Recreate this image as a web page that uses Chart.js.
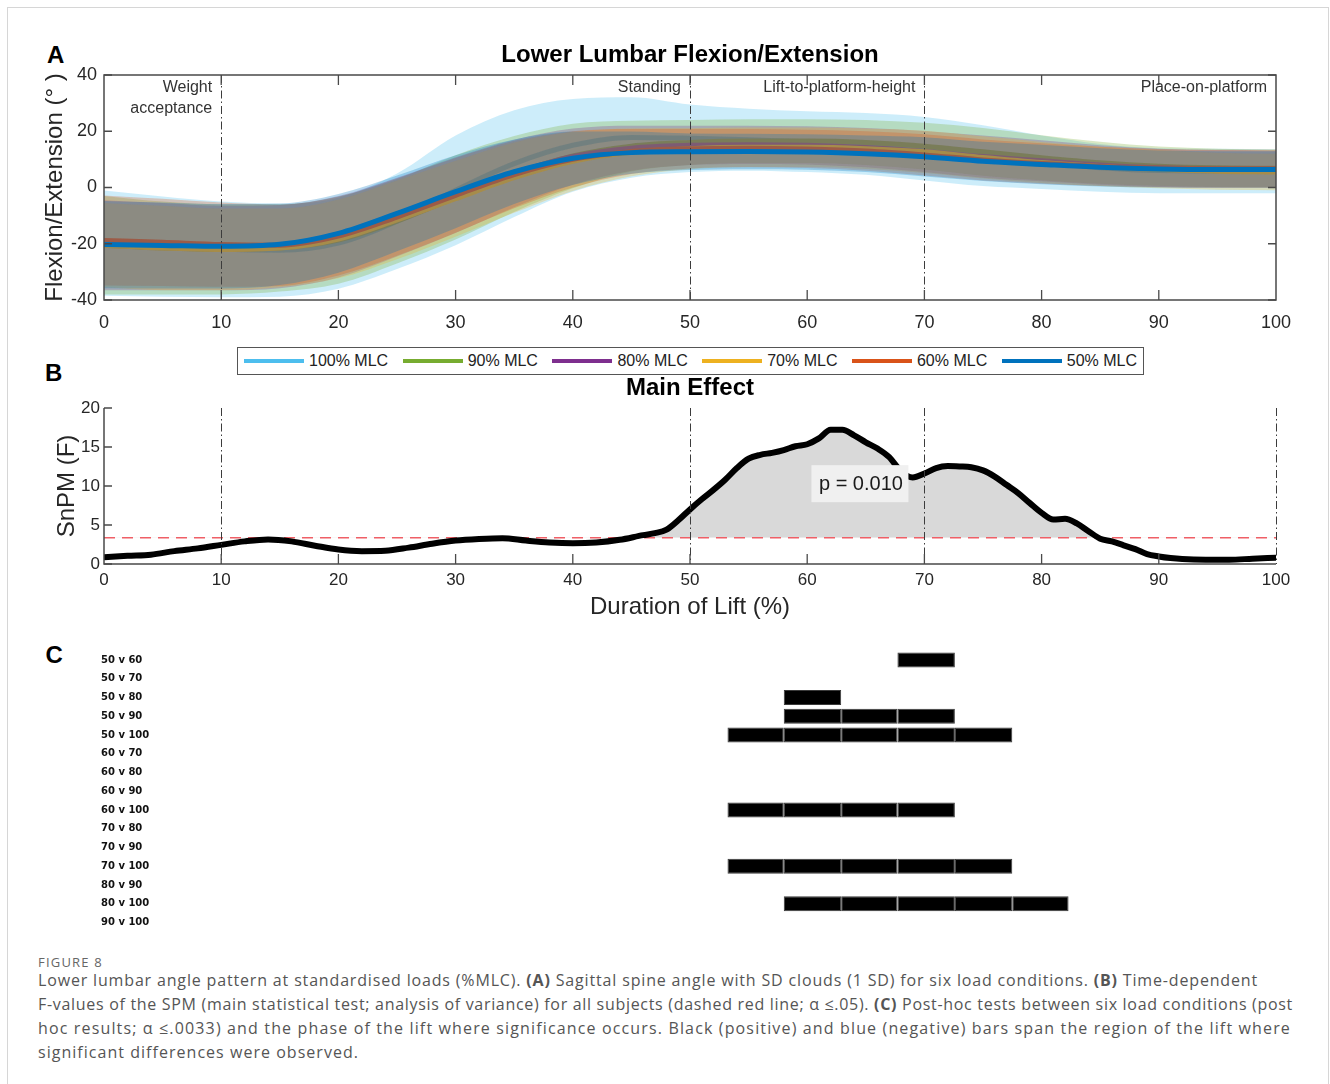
<!DOCTYPE html>
<html><head><meta charset="utf-8">
<script src="https://cdn.jsdelivr.net/npm/chart.js@4.4.0/dist/chart.umd.min.js"></script>
<style>
body{margin:0;background:#fff;width:1330px;height:1084px;position:relative;overflow:hidden;font-family:"Liberation Sans",Arial,sans-serif;}
.frame{position:absolute;left:7px;top:7px;width:1322px;height:1100px;border:1px solid #d6d6d6;box-sizing:border-box;}
canvas{position:absolute;left:0;}
.letter{position:absolute;font:bold 24px "Liberation Sans",Arial,sans-serif;color:#000;line-height:24px;}
#legend{position:absolute;left:237px;top:347px;width:907px;height:28px;box-sizing:border-box;border:1px solid #555;display:flex;align-items:center;justify-content:space-between;padding:0 6px;background:#fff;font:16px "Liberation Sans",Arial,sans-serif;color:#222;}
.item{display:flex;align-items:center;}
.swatch{width:60px;height:4px;margin-right:5px;}
#caption{position:absolute;left:38px;top:968px;font-family:"Open Sans",sans-serif;font-size:16px;line-height:24px;color:#555;}
#caption div{white-space:nowrap;}
#fig{position:absolute;left:38px;top:954px;font-family:"Open Sans",sans-serif;font-size:13px;line-height:16px;color:#666;white-space:nowrap;}
</style></head>
<body>
<div class="frame"></div>
<div class="letter" style="left:47px;top:43px">A</div>
<div class="letter" style="left:45px;top:361px">B</div>
<div class="letter" style="left:45.5px;top:643px">C</div>
<canvas id="cA" width="1330" height="310" style="top:30px"></canvas>
<div id="legend"></div>
<canvas id="cB" width="1330" height="260" style="top:365px"></canvas>
<canvas id="cC" width="1330" height="300" style="top:640px"></canvas>
<div id="fig">FIGURE 8</div>
<div id="caption">
<div>Lower lumbar angle pattern at standardised loads (%MLC). <b>(A)</b> Sagittal spine angle with SD clouds (1 SD) for six load conditions. <b>(B)</b> Time-dependent</div>
<div>F-values of the SPM (main statistical test; analysis of variance) for all subjects (dashed red line; α ≤.05). <b>(C)</b> Post-hoc tests between six load conditions (post</div>
<div>hoc results; α ≤.0033) and the phase of the lift where significance occurs. Black (positive) and blue (negative) bars span the region of the lift where</div>
<div>significant differences were observed.</div>
</div>
<script>
// ---------- DATA ----------
const timePct = [0,5,10,15,20,25,30,35,40,45,50,55,60,65,70,75,80,85,90,95,100];
const loadLabels = ['100% MLC','90% MLC','80% MLC','70% MLC','60% MLC','50% MLC'];
const loadColors = ['#4DBEEE','#77AC30','#7E2F8E','#EDB120','#D95319','#0072BD'];

const mean100 = [-19.8,-21.0,-22.0,-22.3,-19.8,-12.0,-1.0,8.5,15.0,17.8,17.5,17.0,16.3,15.5,13.8,11.3,9.0,7.0,6.0,5.9,5.8];
const sd100   = [18.7,17.8,17.0,16.5,16.2,17.0,19.5,19.0,16.5,14.3,12.0,11.0,10.8,11.0,11.3,10.8,9.5,8.5,8.0,7.9,7.8];
const mean90  = [-20.5,-21.5,-22.0,-21.5,-18.7,-12.0,-3.5,4.8,11.2,14.7,16.0,16.5,16.5,16.0,14.7,12.7,10.6,8.8,7.6,7.0,6.8];
const sd90    = [17.5,16.5,16.0,15.5,15.5,15.0,15.0,13.5,11.5,9.0,8.0,7.8,7.8,8.0,8.3,8.5,8.0,7.5,7.0,6.8,6.7];
const mean80  = [-20.5,-21.0,-21.5,-21.0,-17.5,-10.5,-2.7,5.0,11.0,14.0,15.0,15.2,15.0,14.2,12.8,11.0,9.5,8.0,7.0,6.6,6.5];
const sd80    = [16.0,15.5,15.0,14.8,14.5,14.0,13.5,12.0,10.0,8.0,7.0,6.8,6.8,7.0,7.3,7.5,7.3,7.0,6.8,6.7,6.6];
const mean70  = [-20.5,-21.5,-22.0,-21.5,-18.3,-11.5,-4.0,3.5,9.3,12.5,13.8,14.3,14.3,13.8,12.7,10.7,8.9,7.5,6.5,5.8,5.5];
const sd70    = [15.0,15.0,14.5,14.0,14.0,14.0,13.5,12.5,10.5,8.5,7.3,7.0,7.0,7.2,7.5,7.5,7.3,7.0,6.8,6.6,6.5];
const mean60  = [-18.8,-19.5,-20.3,-20.5,-17.3,-10.5,-2.8,4.6,10.0,12.8,13.8,14.0,13.7,13.0,11.6,9.8,8.5,7.5,6.9,6.7,6.7];
const sd60    = [16.0,15.5,15.0,14.5,14.0,13.8,13.3,12.0,10.0,8.0,7.0,6.8,6.8,7.0,7.3,7.3,7.2,7.0,6.8,6.7,6.7];
const mean50  = [-20.3,-20.6,-20.9,-20.2,-16.3,-9.2,-1.5,5.6,10.4,12.4,12.7,12.8,12.6,12.0,10.9,9.3,8.2,7.2,6.6,6.4,6.4];
const sd50    = [15.5,15.3,15.0,14.5,14.0,13.5,13.0,11.5,9.5,7.5,6.5,6.3,6.3,6.5,7.0,7.0,7.0,6.8,6.6,6.5,6.5];

const phaseNames = [['Weight','acceptance'],['Standing'],['Lift-to-platform-height'],['Place-on-platform']];
const phaseEnds = [10,50,70,100];

const snpmX = [0,2,4,6,8,10,12,14,16,18,20,22,24,26,28,30,32,34,36,38,40,42,44,46,47,48,49,50,51,52,53,54,55,56,57,58,59,60,61,62,63,64,65,66,67,68,69,70,71,72,73,74,75,76,77,78,79,80,81,82,83,84,85,86,87,88,89,90,91,92,94,96,98,100];
const snpmF = [0.85,1.05,1.2,1.65,2.0,2.45,2.9,3.15,2.9,2.35,1.85,1.65,1.7,2.1,2.6,3.0,3.2,3.3,3.0,2.75,2.65,2.75,3.1,3.7,3.95,4.4,5.6,7.0,8.3,9.5,10.8,12.3,13.5,14.0,14.25,14.6,15.1,15.35,16.1,17.2,17.2,16.5,15.6,14.8,13.7,11.9,11.1,11.6,12.3,12.55,12.5,12.4,12.0,11.2,10.15,9.1,7.8,6.55,5.7,5.8,5.2,4.2,3.25,2.9,2.4,1.9,1.27,0.97,0.76,0.63,0.55,0.55,0.68,0.8];
const snpmThreshold = 3.38;
const pLabel = 'p = 0.010';
const pLabelAt = [64.5, 10.3];

const comparisons = ['50 v 60','50 v 70','50 v 80','50 v 90','50 v 100','60 v 70','60 v 80','60 v 90','60 v 100','70 v 80','70 v 90','70 v 100','80 v 90','80 v 100','90 v 100'];
const segEdges = [53.2,58.0,62.9,67.7,72.6,77.5,82.3];
const sigSegments = [[3],[],[1],[1,2,3],[0,1,2,3,4],[],[],[],[0,1,2,3],[],[],[0,1,2,3,4],[],[1,2,3,4,5],[]];

// ---------- SETUP ----------
const FONT = '"Liberation Sans", Arial, sans-serif';
Chart.defaults.font.family = FONT;
Chart.defaults.color = '#262626';
Chart.defaults.animation = false;

const meansByLoad = [mean100, mean90, mean80, mean70, mean60, mean50];
const sdsByLoad = [sd100, sd90, sd80, sd70, sd60, sd50];

function rgba(hex, a){
  const n = parseInt(hex.slice(1),16);
  return `rgba(${(n>>16)&255},${(n>>8)&255},${n&255},${a})`;
}

const axisColor = '#4a4a4a';
const matlabAxes = {
  id:'matlabAxes',
  afterDatasetsDraw(chart, args, o){
    const {ctx, chartArea:a, scales:{x,y}} = chart;
    ctx.save();
    ctx.strokeStyle = '#3c3c3c'; ctx.lineWidth = 1; ctx.setLineDash([8,3,1.5,3]);
    (o.phaseAt||[]).forEach(v=>{
      const px = Math.round(x.getPixelForValue(v))+0.5;
      ctx.beginPath(); ctx.moveTo(px,a.top); ctx.lineTo(px,a.bottom); ctx.stroke();
    });
    ctx.setLineDash([]);
    ctx.strokeStyle = axisColor; ctx.lineWidth = 1.5;
    ctx.beginPath();
    if (o.fullBox) { ctx.rect(a.left,a.top,a.right-a.left,a.bottom-a.top); }
    else { ctx.moveTo(a.left,a.top); ctx.lineTo(a.left,a.bottom); ctx.lineTo(a.right,a.bottom); }
    ctx.stroke();
    const L = o.tickLen || 10;
    ctx.lineWidth = 1.3;
    ctx.beginPath();
    x.ticks.forEach(t=>{
      if (t.value<=x.min || t.value>=x.max) return;
      const px = x.getPixelForValue(t.value);
      ctx.moveTo(px,a.bottom); ctx.lineTo(px,a.bottom-L);
      if (o.fullBox){ ctx.moveTo(px,a.top); ctx.lineTo(px,a.top+L); }
    });
    y.ticks.forEach(t=>{
      const py = y.getPixelForValue(t.value);
      ctx.moveTo(a.left,py); ctx.lineTo(a.left+L*0.8,py);
      if (o.fullBox){ ctx.moveTo(a.right,py); ctx.lineTo(a.right-L*0.8,py); }
    });
    ctx.stroke();
    if (o.title){
      ctx.fillStyle = '#000'; ctx.font = 'bold 24px ' + FONT;
      ctx.textAlign = 'center'; ctx.textBaseline = 'middle';
      ctx.fillText(o.title, (a.left+a.right)/2, a.top - 20);
    }
    if (o.phaseLabels){
      ctx.fillStyle = '#333'; ctx.font = '16px ' + FONT;
      ctx.textAlign = 'right'; ctx.textBaseline = 'middle';
      o.phaseLabels.forEach((lines,i)=>{
        const px = x.getPixelForValue(o.phaseLabelEnds[i]) - 9;
        lines.forEach((s,j)=> ctx.fillText(s, px, a.top + 13 + j*21));
      });
    }
    if (o.pText){
      ctx.font = '20px ' + FONT;
      const w = ctx.measureText(o.pText).width + 13;
      const h = 37;
      const cx = x.getPixelForValue(o.pAt[0]), cy = y.getPixelForValue(o.pAt[1]);
      ctx.fillStyle = '#f0f0f0';
      ctx.fillRect(cx - w/2, cy - h/2, w, h);
      ctx.fillStyle = '#1a1a1a'; ctx.textAlign = 'center'; ctx.textBaseline = 'middle';
      ctx.fillText(o.pText, cx + 1, cy + 1);
    }
    ctx.restore();
  }
};

// ---------- CHART A ----------
// drawing order (bottom -> top): band100, mean100, band90, mean90, ... band50, mean50
const dsA = [];
meansByLoad.forEach((m,k)=>{
  const sd = sdsByLoad[k];
  const bandOrder = 2*(5-k) + 1, lineOrder = 2*(5-k);
  dsA.push({label: loadLabels[k]+' +SD', data: timePct.map((x,i)=>({x, y: m[i]+sd[i]})),
    borderWidth:0, pointRadius:0, fill:'+1', backgroundColor: rgba(loadColors[k],0.28),
    cubicInterpolationMode:'monotone', order: bandOrder});
  dsA.push({label: loadLabels[k]+' -SD', data: timePct.map((x,i)=>({x, y: m[i]-sd[i]})),
    borderWidth:0, pointRadius:0, fill:false, cubicInterpolationMode:'monotone', order: bandOrder + 0.5});
  dsA.push({label: loadLabels[k], data: timePct.map((x,i)=>({x, y: m[i]})),
    borderColor: loadColors[k], borderWidth: 5, pointRadius:0, fill:false,
    cubicInterpolationMode:'monotone', order: lineOrder});
});

new Chart(document.getElementById('cA'), {
  type:'line',
  data:{datasets: dsA},
  plugins:[matlabAxes],
  options:{
    responsive:false, events:[],
    layout:{padding:{left:0,right:54,top:45,bottom:0}},
    plugins:{
      legend:{display:false}, tooltip:{enabled:false},
      matlabAxes:{fullBox:true, phaseAt:[10,50,70], tickLen:10, title:'Lower Lumbar Flexion/Extension',
        phaseLabels: phaseNames, phaseLabelEnds: phaseEnds}
    },
    scales:{
      x:{type:'linear', min:0, max:100, grid:{display:false, drawTicks:false}, border:{display:false},
        ticks:{stepSize:10, font:{size:18}, padding:12.2, maxRotation:0},
        afterFit(s){ s.height = 40; }},
      y:{type:'linear', min:-40, max:40, grid:{display:false, drawTicks:false}, border:{display:false},
        ticks:{stepSize:20, font:{size:18}, padding:7},
        title:{display:true, text:'Flexion/Extension (° )', font:{size:24}, color:'#262626', padding:{top:40.5, bottom:0}},
        afterFit(s){ s.width = 104; }}
    }
  }
});

// ---------- LEGEND ----------
const leg = document.getElementById('legend');
loadLabels.forEach((lab,k)=>{
  const it = document.createElement('div'); it.className='item';
  const sw = document.createElement('div'); sw.className='swatch'; sw.style.background = loadColors[k];
  const tx = document.createElement('span'); tx.textContent = lab;
  it.appendChild(sw); it.appendChild(tx); leg.appendChild(it);
});

// ---------- CHART B ----------
new Chart(document.getElementById('cB'), {
  type:'line',
  data:{datasets:[
    {label:'SnPM F', data: snpmX.map((x,i)=>({x, y: snpmF[i]})), borderColor:'#000', borderWidth:6,
      pointRadius:0, cubicInterpolationMode:'monotone', borderJoinStyle:'round', borderCapStyle:'round',
      fill:{target:{value: snpmThreshold}, above:'#d9d9d9', below:'rgba(0,0,0,0)'}, order:0},
    {label:'threshold', data:[{x:0,y:snpmThreshold},{x:100,y:snpmThreshold}], borderColor:'#ef5f66',
      borderWidth:1.5, borderDash:[11,7], pointRadius:0, fill:false, order:1}
  ]},
  plugins:[matlabAxes],
  options:{
    responsive:false, events:[],
    layout:{padding:{left:0,right:54,top:43,bottom:0}},
    plugins:{
      legend:{display:false}, tooltip:{enabled:false},
      filler:{drawTime:'beforeDatasetsDraw'},
      matlabAxes:{fullBox:false, phaseAt:phaseEnds, tickLen:10, pText:pLabel, pAt:pLabelAt, title:'Main Effect'}
    },
    scales:{
      x:{type:'linear', min:0, max:100, grid:{display:false, drawTicks:false}, border:{display:false},
        ticks:{stepSize:10, font:{size:17}, padding:6, maxRotation:0},
        title:{display:true, text:'Duration of Lift (%)', font:{size:24}, color:'#262626', padding:{top:0,bottom:3.6}},
        afterFit(s){ s.height = 61; }},
      y:{type:'linear', min:0, max:20, grid:{display:false, drawTicks:false}, border:{display:false},
        ticks:{stepSize:5, font:{size:17}, padding:4},
        title:{display:true, text:'SnPM (F)', font:{size:24}, color:'#262626', padding:{top:52.6,bottom:0}},
        afterFit(s){ s.width = 104; }}
    }
  }
});

// ---------- CHART C ----------
const rowLabels = {
  id:'rowLabels',
  afterDraw(chart){
    const {ctx, chartArea:a, scales:{y}} = chart;
    ctx.save();
    ctx.fillStyle = '#111'; ctx.font = 'bold 10px "DejaVu Sans", Verdana, sans-serif';
    ctx.textAlign = 'left'; ctx.textBaseline = 'middle';
    y.ticks.forEach((t,i)=> ctx.fillText(y.getLabelForValue(t.value), a.left - 3, y.getPixelForTick(i)));
    ctx.restore();
  }
};
const dsC = [];
for (let k=0;k<segEdges.length-1;k++){
  dsC.push({label:'segment '+k,
    data: comparisons.map((c,i)=> sigSegments[i].includes(k) ? [segEdges[k], segEdges[k+1]] : null),
    backgroundColor:'#000', borderColor:'#3a3a3a', borderWidth:1, borderSkipped:false,
    barPercentage:0.8, categoryPercentage:1.0, grouped:false});
}
new Chart(document.getElementById('cC'), {
  type:'bar',
  data:{labels: comparisons, datasets: dsC},
  plugins:[rowLabels],
  options:{
    indexAxis:'y', responsive:false, events:[],
    layout:{padding:{left:104,right:54,top:10.6,bottom:8.2}},
    plugins:{legend:{display:false}, tooltip:{enabled:false}},
    scales:{
      x:{type:'linear', min:0, max:100, display:false},
      y:{type:'category', grid:{display:false, drawTicks:false}, border:{display:false},
        ticks:{display:false}, afterFit(s){ s.width = 0; }}
    }
  }
});

// ---------- CAPTION FIT ----------
function fitCaption(){
  const targets = [1220, 1255, 1253, 321];
  document.querySelectorAll('#caption div').forEach((d,i)=>{
    d.style.letterSpacing = '0px';
    d.style.display = 'inline-block';
    const w = d.getBoundingClientRect().width;
    const n = d.textContent.length;
    d.style.letterSpacing = ((targets[i]-w)/n) + 'px';
    d.style.display = 'block';
  });
  const f = document.getElementById('fig');
  f.style.letterSpacing='0px';
  const fw = f.getBoundingClientRect().width;
  f.style.letterSpacing = ((65-fw)/8)+'px';
}
fitCaption();
if (document.fonts && document.fonts.ready) document.fonts.ready.then(fitCaption);
</script>
</body></html>
